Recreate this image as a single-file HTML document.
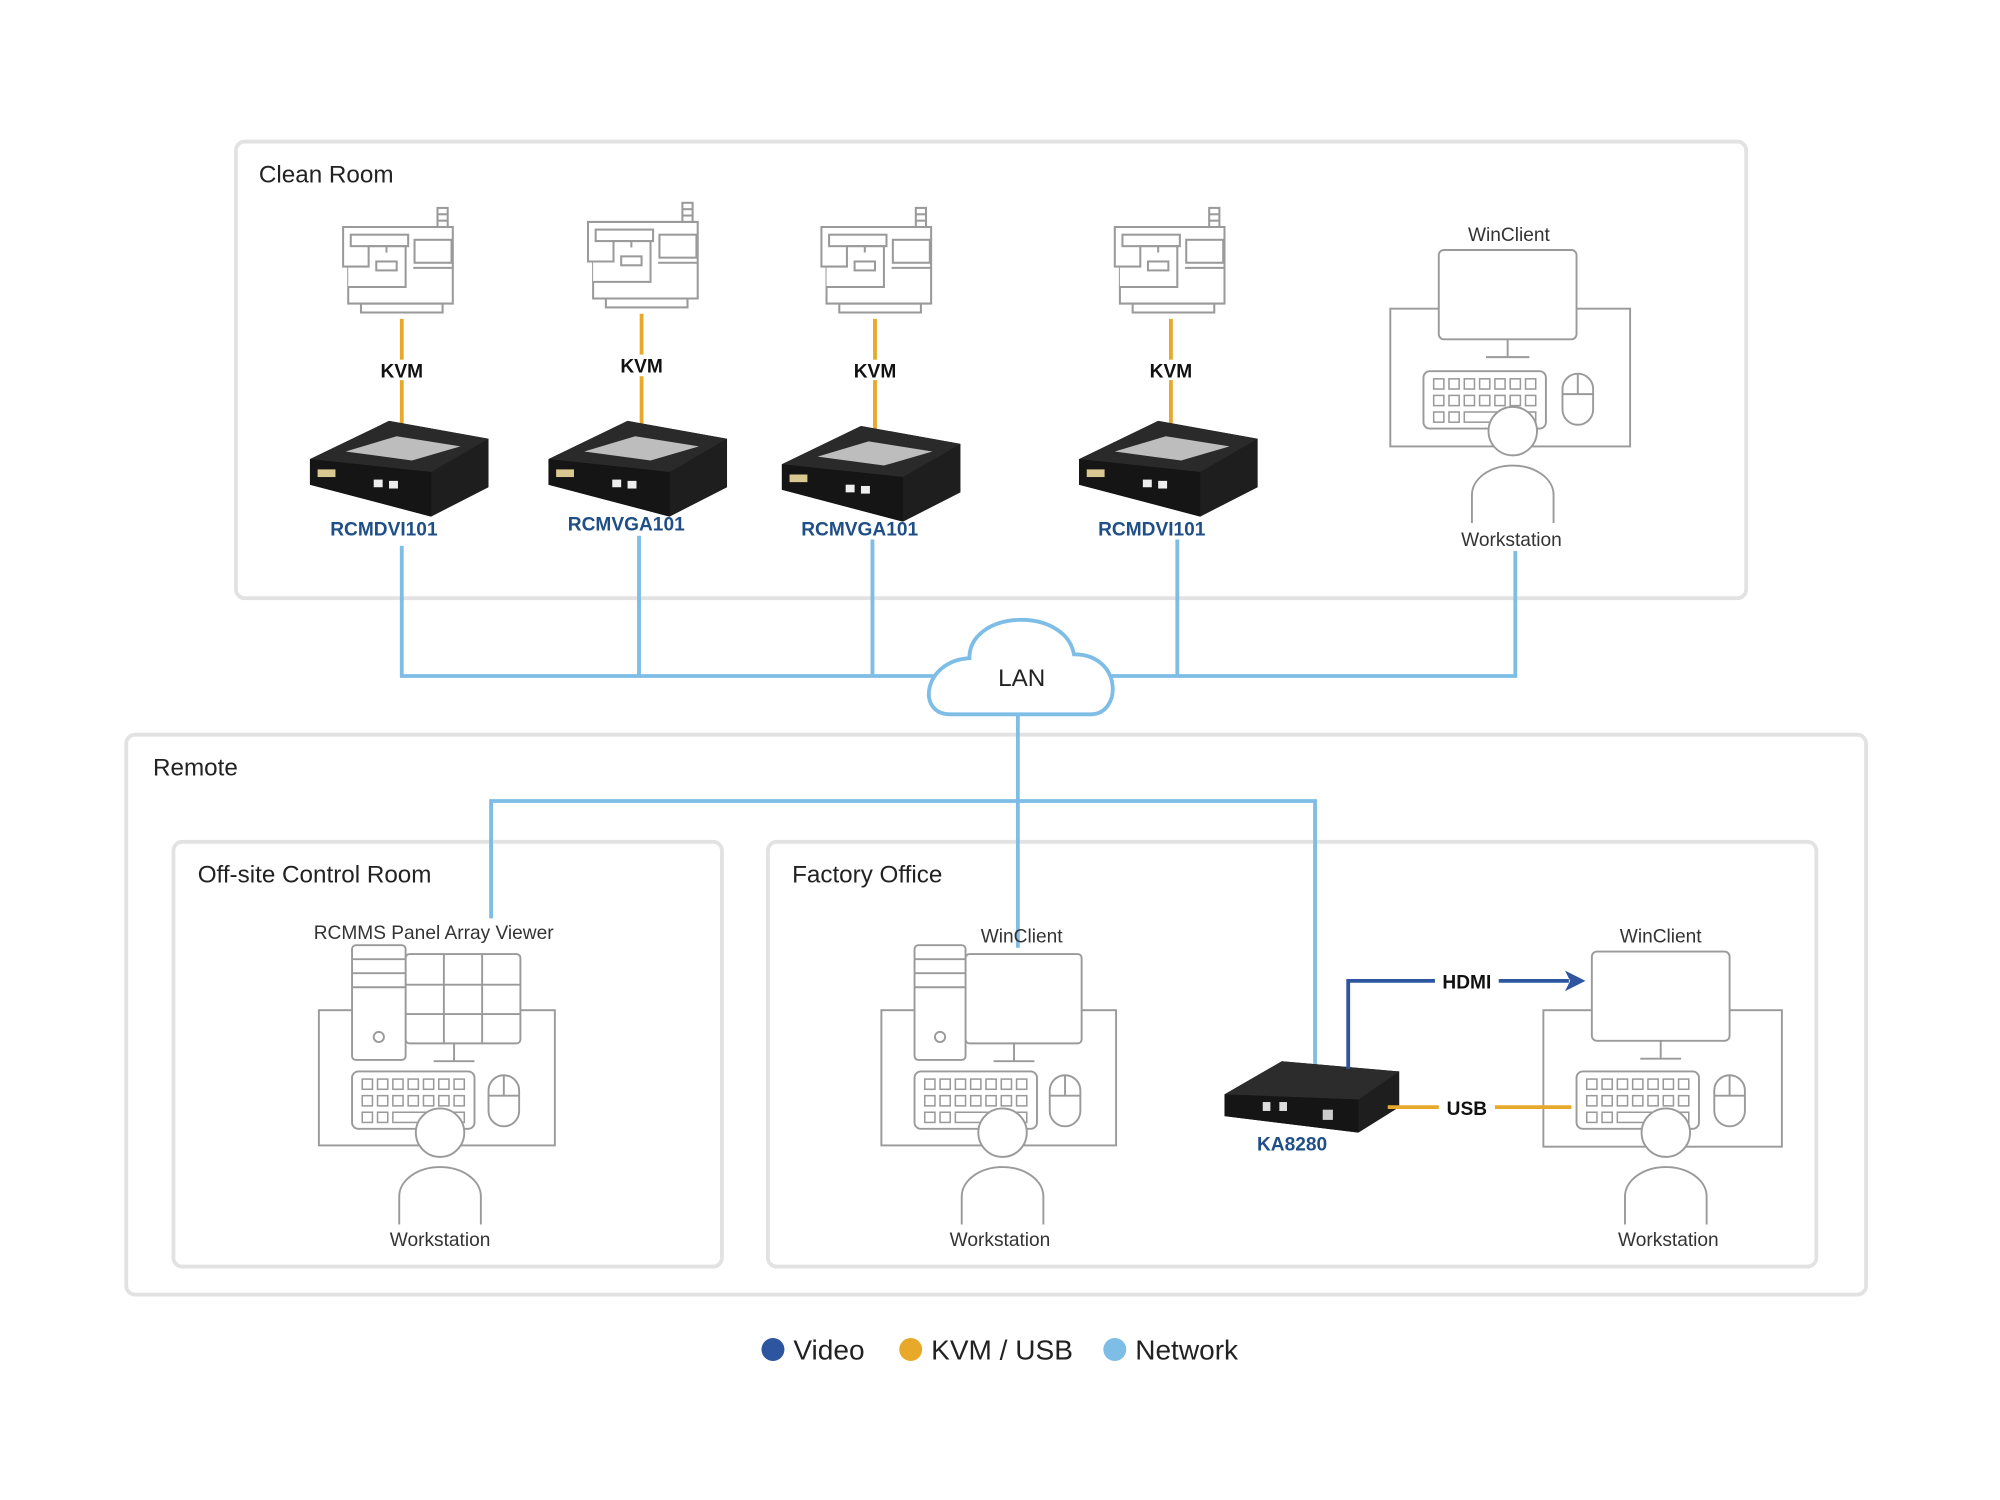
<!DOCTYPE html>
<html><head><meta charset="utf-8"><style>
html,body{margin:0;padding:0;background:#fff;}
svg{display:block;}
text{font-family:"Liberation Sans","DejaVu Sans",sans-serif;}
</style></head><body>
<svg width="2000" height="1500" viewBox="0 0 1568 1176" xmlns="http://www.w3.org/2000/svg">
<defs>
<g id="machine" fill="#fff" stroke="#9a9a9a" stroke-width="1.6">
  <rect x="74" y="0" width="8" height="15"/>
  <line x1="74" y1="5" x2="82" y2="5"/><line x1="74" y1="10" x2="82" y2="10"/>
  <rect x="14" y="75" width="64" height="7"/>
  <path d="M0,15 H86 V75 H4 V46 H0 Z"/>
  <rect x="6" y="21" width="45" height="9"/>
  <rect x="56" y="25" width="29" height="18"/>
  <line x1="55" y1="47" x2="86" y2="47"/>
  <path d="M4,46 H20 V30 H49 V62 H4"/>
  <line x1="34" y1="30" x2="34" y2="35"/>
  <rect x="26" y="42" width="16" height="7"/>
</g>
<g id="device">
  <polygon points="0,30 62,0 140,14 140,52 95,75 0,50" fill="#1e1e1e"/>
  <polygon points="0,30 62,0 140,14 95,40" fill="#2a2a2a"/>
  <polygon points="0,30 95,40 95,75 0,50" fill="#151515"/>
  <polygon points="28,24 68,12 118,20 80,31" fill="#bdbdbd"/>
  <rect x="6" y="38" width="14" height="6" fill="#d9c890"/>
  <rect x="50" y="46" width="7" height="6" fill="#eee"/>
  <rect x="62" y="47" width="7" height="6" fill="#eee"/>
</g>
<g id="kb" fill="#fff" stroke="#9a9a9a" stroke-width="1.5">
  <rect x="0" y="0" width="96" height="45" rx="5"/>
  <g stroke-width="1.2">
  <rect x="8" y="6" width="8" height="8"/><rect x="20" y="6" width="8" height="8"/><rect x="32" y="6" width="8" height="8"/><rect x="44" y="6" width="8" height="8"/><rect x="56" y="6" width="8" height="8"/><rect x="68" y="6" width="8" height="8"/><rect x="80" y="6" width="8" height="8"/>
  <rect x="8" y="19" width="8" height="8"/><rect x="20" y="19" width="8" height="8"/><rect x="32" y="19" width="8" height="8"/><rect x="44" y="19" width="8" height="8"/><rect x="56" y="19" width="8" height="8"/><rect x="68" y="19" width="8" height="8"/><rect x="80" y="19" width="8" height="8"/>
  <rect x="8" y="32" width="8" height="8"/><rect x="20" y="32" width="8" height="8"/><rect x="32" y="32" width="44" height="8"/><rect x="80" y="32" width="8" height="8"/>
  </g>
</g>
<g id="mouse" fill="#fff" stroke="#9a9a9a" stroke-width="1.5">
  <rect x="-12" y="-20" width="24" height="40" rx="12"/>
  <line x1="-12" y1="-4" x2="12" y2="-4"/><line x1="0" y1="-20" x2="0" y2="-4"/>
</g>
<g id="person" fill="#fff" stroke="#9a9a9a" stroke-width="1.5">
  <path d="M-32,72 V50 A32,23 0 0 1 32,50 V72" fill="none"/>
  <circle cx="0" cy="0" r="19"/>
</g>
</defs>

<g fill="none" stroke="#e2e2e2" stroke-width="3">
<rect x="185" y="111" width="1184" height="358" rx="7"/>
<rect x="99" y="576" width="1364" height="439" rx="7"/>
<rect x="136" y="660" width="430" height="333" rx="7"/>
<rect x="602" y="660" width="822" height="333" rx="7"/>
</g>
<g font-size="19" fill="#222">
<text x="203" y="143">Clean Room</text>
<text x="120" y="608">Remote</text>
<text x="155" y="692">Off-site Control Room</text>
<text x="621" y="692">Factory Office</text>
</g>

<g stroke="#7dbde6" stroke-width="3" fill="none">
<path d="M315,428 V530 H740"/>
<path d="M501,420 V530"/><path d="M684,423 V530"/>
<path d="M862,530 H1188 V432"/><path d="M923,423 V530"/>
<path d="M798,560 V743"/>
<path d="M385,720 V628 H1031 V840"/>
</g>
<path d="M745,560 C718,560 724,518 760,516 C760,478 835,475 842,513 C880,513 880,560 855,560 Z" fill="#fff" stroke="#7dbde6" stroke-width="3"/>
<text x="801" y="538" font-size="19" text-anchor="middle" fill="#222">LAN</text>

<g stroke="#e8a92b" stroke-width="3">
<line x1="315" y1="250" x2="315" y2="282"/><line x1="315" y1="298" x2="315" y2="337"/>
<line x1="503" y1="246" x2="503" y2="278"/><line x1="503" y1="295" x2="503" y2="333"/>
<line x1="686" y1="250" x2="686" y2="282"/><line x1="686" y1="298" x2="686" y2="337"/>
<line x1="918" y1="250" x2="918" y2="282"/><line x1="918" y1="298" x2="918" y2="333"/>
</g>
<use href="#machine" x="269" y="163"/>
<use href="#machine" x="461" y="159"/>
<use href="#machine" x="644" y="163"/>
<use href="#machine" x="874" y="163"/>
<g font-size="15" font-weight="bold" fill="#111" text-anchor="middle">
<text x="315" y="296">KVM</text><text x="503" y="292">KVM</text><text x="686" y="296">KVM</text><text x="918" y="296">KVM</text>
</g>
<use href="#device" x="243" y="330"/>
<use href="#device" x="430" y="330"/>
<use href="#device" x="613" y="334"/>
<use href="#device" x="846" y="330"/>
<g font-size="15" font-weight="bold" fill="#1f4f86" text-anchor="middle">
<text x="301" y="420">RCMDVI101</text><text x="491" y="416">RCMVGA101</text><text x="674" y="420">RCMVGA101</text><text x="903" y="420">RCMDVI101</text>
<text x="1013" y="902">KA8280</text>
</g>

<g fill="#fff" stroke="#9a9a9a" stroke-width="1.5">
<rect x="1090" y="242" width="188" height="108"/>
<rect x="1128" y="196" width="108" height="70" rx="4"/>
<line x1="1182" y1="266" x2="1182" y2="280"/><line x1="1165" y1="280" x2="1199" y2="280"/>
</g>
<use href="#kb" x="1116" y="291"/><use href="#mouse" x="1237" y="313"/><use href="#person" x="1186" y="338"/>
<g font-size="15" fill="#333" text-anchor="middle">
<text x="1183" y="189">WinClient</text><text x="1185" y="428">Workstation</text>
<text x="340" y="736">RCMMS Panel Array Viewer</text><text x="345" y="977">Workstation</text>
<text x="801" y="739">WinClient</text><text x="784" y="977">Workstation</text>
<text x="1302" y="739">WinClient</text><text x="1308" y="977">Workstation</text>
</g>

<g fill="#fff" stroke="#9a9a9a" stroke-width="1.5">
<rect x="250" y="792" width="185" height="106"/>
<rect x="318" y="748" width="90" height="70" rx="3"/>
<line x1="348" y1="748" x2="348" y2="818"/><line x1="378" y1="748" x2="378" y2="818"/><line x1="318" y1="772" x2="408" y2="772"/><line x1="318" y1="795" x2="408" y2="795"/>
<line x1="356" y1="818" x2="356" y2="832"/><line x1="340" y1="832" x2="372" y2="832"/>
<rect x="276" y="741" width="42" height="90" rx="3"/>
<line x1="276" y1="752" x2="318" y2="752"/><line x1="276" y1="763" x2="318" y2="763"/><line x1="276" y1="774" x2="318" y2="774"/>
<circle cx="297" cy="813" r="4"/>
</g>
<use href="#kb" x="276" y="840"/><use href="#mouse" x="395" y="863"/><use href="#person" x="345" y="888"/>

<g fill="#fff" stroke="#9a9a9a" stroke-width="1.5">
<rect x="691" y="792" width="184" height="106"/>
<rect x="757" y="748" width="91" height="70" rx="3"/>
<line x1="795" y1="818" x2="795" y2="832"/><line x1="779" y1="832" x2="811" y2="832"/>
<rect x="717" y="741" width="40" height="90" rx="3"/>
<line x1="717" y1="752" x2="757" y2="752"/><line x1="717" y1="763" x2="757" y2="763"/><line x1="717" y1="774" x2="757" y2="774"/>
<circle cx="737" cy="813" r="4"/>
</g>
<use href="#kb" x="717" y="840"/><use href="#mouse" x="835" y="863"/><use href="#person" x="786" y="888"/>

<g fill="#fff" stroke="#9a9a9a" stroke-width="1.5">
<rect x="1210" y="792" width="187" height="107"/>
<rect x="1248" y="746" width="108" height="70" rx="4"/>
<line x1="1302" y1="816" x2="1302" y2="830"/><line x1="1286" y1="830" x2="1318" y2="830"/>
</g>
<use href="#kb" x="1236" y="840"/><use href="#mouse" x="1356" y="863"/><use href="#person" x="1306" y="888"/>

<g>
  <polygon points="960,858 1005,832 1097,840 1097,868 1065,888 960,875" fill="#1e1e1e"/>
  <polygon points="960,858 1005,832 1097,840 1065,862" fill="#2c2c2c"/>
  <polygon points="960,858 1065,862 1065,888 960,875" fill="#151515"/>
  <rect x="990" y="864" width="6" height="7" fill="#ddd"/><rect x="1003" y="864" width="6" height="7" fill="#ddd"/>
  <rect x="1037" y="870" width="8" height="8" fill="#ccc"/>
</g>
<path d="M1057,838 V769 H1125 M1175,769 H1230" stroke="#2d55a0" stroke-width="3" fill="none"/>
<polygon points="1243,769 1227,761 1231,769 1227,777" fill="#2d55a0"/>
<path d="M1088,868 H1128 M1172,868 H1232" stroke="#e8a92b" stroke-width="3"/>
<g font-size="15" font-weight="bold" fill="#111" text-anchor="middle">
<text x="1150" y="775">HDMI</text><text x="1150" y="874">USB</text>
</g>

<circle cx="606" cy="1058" r="9" fill="#2d55a0"/>
<circle cx="714" cy="1058" r="9" fill="#e8a92b"/>
<circle cx="874" cy="1058" r="9" fill="#7dbde6"/>
<g font-size="22" fill="#222">
<text x="622" y="1066">Video</text><text x="730" y="1066">KVM / USB</text><text x="890" y="1066">Network</text>
</g>
</svg>
</body></html>
